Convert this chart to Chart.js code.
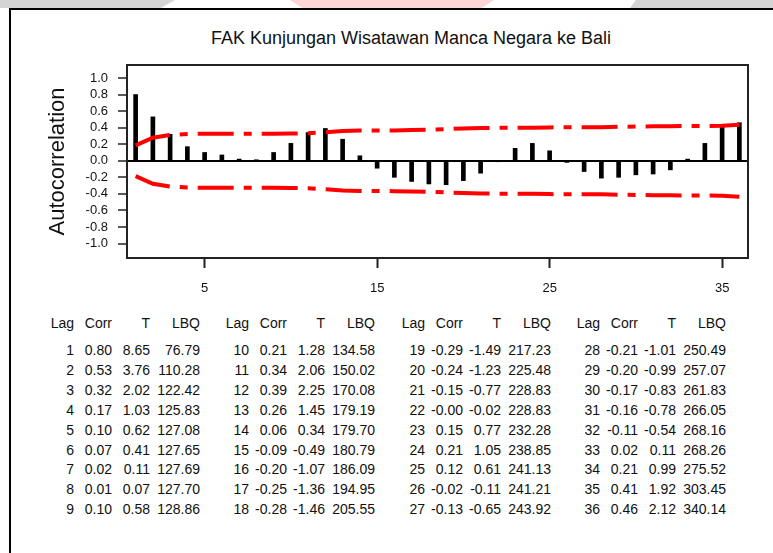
<!DOCTYPE html>
<html>
<head>
<meta charset="utf-8">
<script src="https://cdn.jsdelivr.net/npm/chart.js@4.4.0/dist/chart.umd.min.js"></script>
<style>
  html, body { margin: 0; padding: 0; background: #fff; }
  body { width: 773px; height: 553px; position: relative; overflow: hidden; font-family: "Liberation Sans", Arial, sans-serif; }
  #chartWrap { position: absolute; left: 0; top: 0; width: 773px; height: 300px; }
  .deco { position: absolute; top: 0; height: 8px; }
  #frame { position: absolute; left: 9px; top: 8px; width: 780px; height: 560px; border-left: 2px solid #000; border-top: 2px solid #000; box-sizing: border-box; }
  #title { position: absolute; left: 0; width: 822px; top: 28px; height: 20px; line-height: 20px; text-align: center; font-size: 18px; color: #111; white-space: nowrap; }
  .cell { position: absolute; font-size: 14px; line-height: 16px; height: 16px; color: #111; white-space: nowrap; text-align: right; width: 80px; }
</style>
</head>
<body>
<div class="deco" style="left:0;width:175px;background:#d4d4d4;clip-path:polygon(0 0,100% 0,92% 100%,0 100%);"></div>
<div class="deco" style="left:290px;width:204px;background:#ffd6d6;clip-path:polygon(0 0,100% 0,94% 100%,6% 100%);"></div>
<div class="deco" style="left:630px;width:143px;background:#d4d4d4;clip-path:polygon(4% 0,100% 0,100% 100%,0 100%);"></div>
<div id="frame"></div>
<div id="title">FAK Kunjungan Wisatawan Manca Negara ke Bali</div>
<div id="chartWrap"><canvas id="c" width="773" height="300"></canvas></div>
<div id="table"></div>
<script>
// ---- data ----
const lags = [1,2,3,4,5,6,7,8,9,10,11,12,13,14,15,16,17,18,19,20,21,22,23,24,25,26,27,28,29,30,31,32,33,34,35,36];
const corr = [0.80,0.53,0.32,0.17,0.10,0.07,0.02,0.01,0.10,0.21,0.34,0.39,0.26,0.06,-0.09,-0.20,-0.25,-0.28,-0.29,-0.24,-0.15,-0.004,0.15,0.21,0.12,-0.02,-0.13,-0.21,-0.20,-0.17,-0.16,-0.11,0.02,0.21,0.41,0.46];
const tStat = [8.65,3.76,2.02,1.03,0.62,0.41,0.11,0.07,0.58,1.28,2.06,2.25,1.45,0.34,-0.49,-1.07,-1.36,-1.46,-1.49,-1.23,-0.77,-0.02,0.77,1.05,0.61,-0.11,-0.65,-1.01,-0.99,-0.83,-0.78,-0.54,0.11,0.99,1.92,2.12];
const lbq = [76.79,110.28,122.42,125.83,127.08,127.65,127.69,127.70,128.86,134.58,150.02,170.08,179.19,179.70,180.79,186.09,194.95,205.55,217.23,225.48,228.83,228.83,232.28,238.85,241.13,241.21,243.92,250.49,257.07,261.83,266.05,268.16,268.26,275.52,303.45,340.14];
const upperLimit = [0.185,0.279,0.312,0.323,0.326,0.327,0.327,0.327,0.327,0.328,0.333,0.345,0.359,0.366,0.366,0.367,0.371,0.376,0.383,0.391,0.396,0.398,0.398,0.400,0.403,0.405,0.405,0.406,0.410,0.413,0.416,0.418,0.419,0.419,0.422,0.436];
const lowerLimit = upperLimit.map(v => -v);
const yTicks = [-1.0,-0.8,-0.6,-0.4,-0.2,0.0,0.2,0.4,0.6,0.8,1.0];
const xTicks = [5,15,25,35];
const tableHeaders = ["Lag","Corr","T","LBQ"];

// ---- chart ----
const boxPlugin = {
  id: 'box',
  afterDraw(chart) {
    const a = chart.chartArea, ctx = chart.ctx;
    ctx.save();
    ctx.strokeStyle = '#222';
    ctx.lineWidth = 2;
    ctx.strokeRect(a.left, a.top, a.right - a.left, a.bottom - a.top);
    ctx.restore();
  }
};

new Chart(document.getElementById('c'), {
  type: 'bar',
  data: {
    datasets: [
      { type: 'line', data: lags.map((l,i) => ({x:l, y:upperLimit[i]})), borderColor: '#ff0000', borderWidth: 4, borderDash: [36,10,8,10], borderCapStyle: 'butt', pointRadius: 0, tension: 0, fill: false, order: 0 },
      { type: 'line', data: lags.map((l,i) => ({x:l, y:lowerLimit[i]})), borderColor: '#ff0000', borderWidth: 4, borderDash: [36,10,8,10], borderCapStyle: 'butt', pointRadius: 0, tension: 0, fill: false, order: 0 },
      { type: 'bar', data: lags.map((l,i) => ({x:l, y:corr[i]})), backgroundColor: '#000', barThickness: 4, order: 1 }
    ]
  },
  options: {
    responsive: false,
    animation: false,
    devicePixelRatio: 1,
    layout: { padding: { top: 65, right: 25, left: 0, bottom: 0 } },
    plugins: { legend: { display: false }, tooltip: { enabled: false }, title: { display: false } },
    scales: {
      x: {
        type: 'linear', min: 0.5, max: 36.5, offset: false,
        afterFit(s) { s.height = 42; },
        afterBuildTicks(s) { s.ticks = xTicks.map(v => ({value: v})); },
        border: { display: false },
        grid: { display: true, offset: false, drawOnChartArea: false, drawTicks: true, tickLength: 10, tickColor: '#222', tickWidth: 2 },
        ticks: { padding: 13, color: '#111', font: { family: 'Liberation Sans', size: 13 }, maxRotation: 0, autoSkip: false, callback: v => String(v) }
      },
      y: {
        type: 'linear', min: -1.175, max: 1.157,
        afterFit(s) { s.width = 127; },
        afterBuildTicks(s) { s.ticks = yTicks.map(v => ({value: v})); },
        border: { display: false },
        grid: { display: true, drawOnChartArea: true, drawTicks: true, tickLength: 9,
                color: c => (c.tick && Math.abs(c.tick.value) < 1e-9) ? '#000' : 'rgba(0,0,0,0)',
                lineWidth: 2, tickColor: '#222', tickWidth: 1.5 },
        ticks: { padding: 10, color: '#111', font: { family: 'Liberation Sans', size: 13 }, autoSkip: false, callback: v => v.toFixed(1) },
        title: { display: true, text: 'Autocorrelation', color: '#111', font: { family: 'Liberation Sans', size: 22, weight: 'normal' }, padding: { top: 45, bottom: 0 } }
      }
    }
  },
  plugins: [boxPlugin]
});

// ---- table ----
const table = document.getElementById('table');
const blockLagRight = [74, 249, 425, 600];
const colOffsets = [0, 38, 76, 126];
const headerY = 315;
const rowY0 = 342;
const rowStep = 19.9;
function addCell(text, right, top) {
  const d = document.createElement('div');
  d.className = 'cell';
  d.textContent = text;
  d.style.left = (right - 80) + 'px';
  d.style.top = top + 'px';
  table.appendChild(d);
}
for (let b = 0; b < 4; b++) {
  tableHeaders.forEach((h, j) => addCell(h, blockLagRight[b] + colOffsets[j], headerY));
  for (let r = 0; r < 9; r++) {
    const i = b * 9 + r;
    const top = rowY0 + r * rowStep;
    addCell(String(lags[i]), blockLagRight[b] + colOffsets[0], top);
    addCell(corr[i].toFixed(2), blockLagRight[b] + colOffsets[1], top);
    addCell(tStat[i].toFixed(2), blockLagRight[b] + colOffsets[2], top);
    addCell(lbq[i].toFixed(2), blockLagRight[b] + colOffsets[3], top);
  }
}
</script>
</body>
</html>
